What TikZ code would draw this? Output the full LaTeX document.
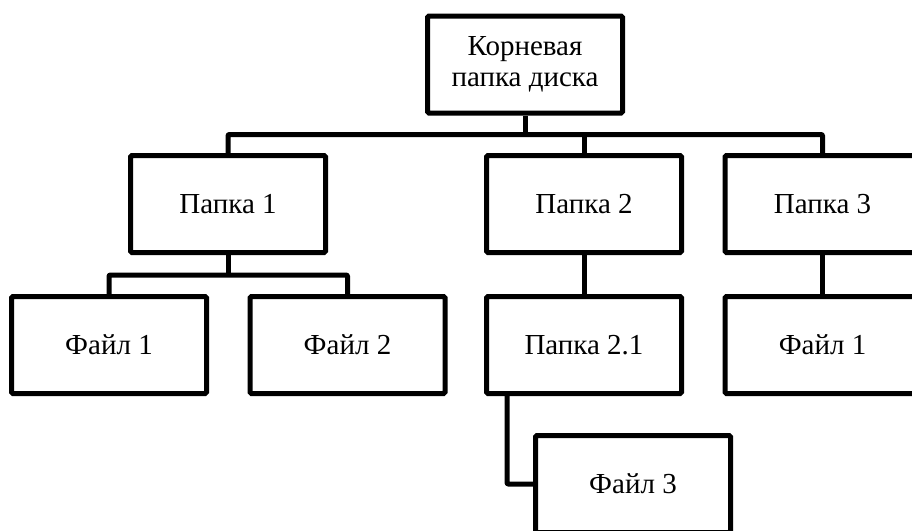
\documentclass[tikz,border=0pt]{standalone}
\usepackage{fontspec}
\setmainfont{Liberation Serif}
\begin{document}
\begin{tikzpicture}[x=1pt,y=-1pt,
  box/.style={draw=black,line width=5pt,rounded corners=1.5pt,minimum width=195pt,minimum height=97pt,inner sep=0pt,align=center,font=\fontsize{29}{31}\selectfont},
  conn/.style={draw=black,line width=5pt,line join=round,rounded corners=1pt}]
\useasboundingbox (0,0) rectangle (912,530);
\clip (0,0) rectangle (912,530);
\node[box] (root) at (525,64.5) {Корневая\\папка диска};
\node[box] (p1) at (228,204) {Папка 1};
\node[box] (p2) at (584,204) {Папка 2};
\node[box] (p3) at (822.5,204) {Папка 3};
\node[box] (f1) at (109,345) {Файл 1};
\node[box] (f2) at (347.5,345) {Файл 2};
\node[box] (p21) at (584,345) {Папка 2.1};
\node[box] (f1b) at (822.5,345) {Файл 1};
\node[box] (f3) at (633,484) {Файл 3};
\coordinate (bus1) at (525,134.5);
\coordinate (bus2) at (228,275);
\draw[conn] (root.south) -- (bus1);
\draw[conn] (p1.north) |- (bus1) -| (p3.north);
\draw[conn] (bus1 -| p2.north) -- (p2.north);
\draw[conn] (p1.south) -- (bus2);
\draw[conn] (f1.north) |- (bus2) -| (f2.north);
\draw[conn] (p2.south) -- (p21.north);
\draw[conn] (p3.south) -- (f1b.north);
\draw[conn] ([xshift=-77pt]p21.south) |- (f3.west);
\end{tikzpicture}
\end{document}
